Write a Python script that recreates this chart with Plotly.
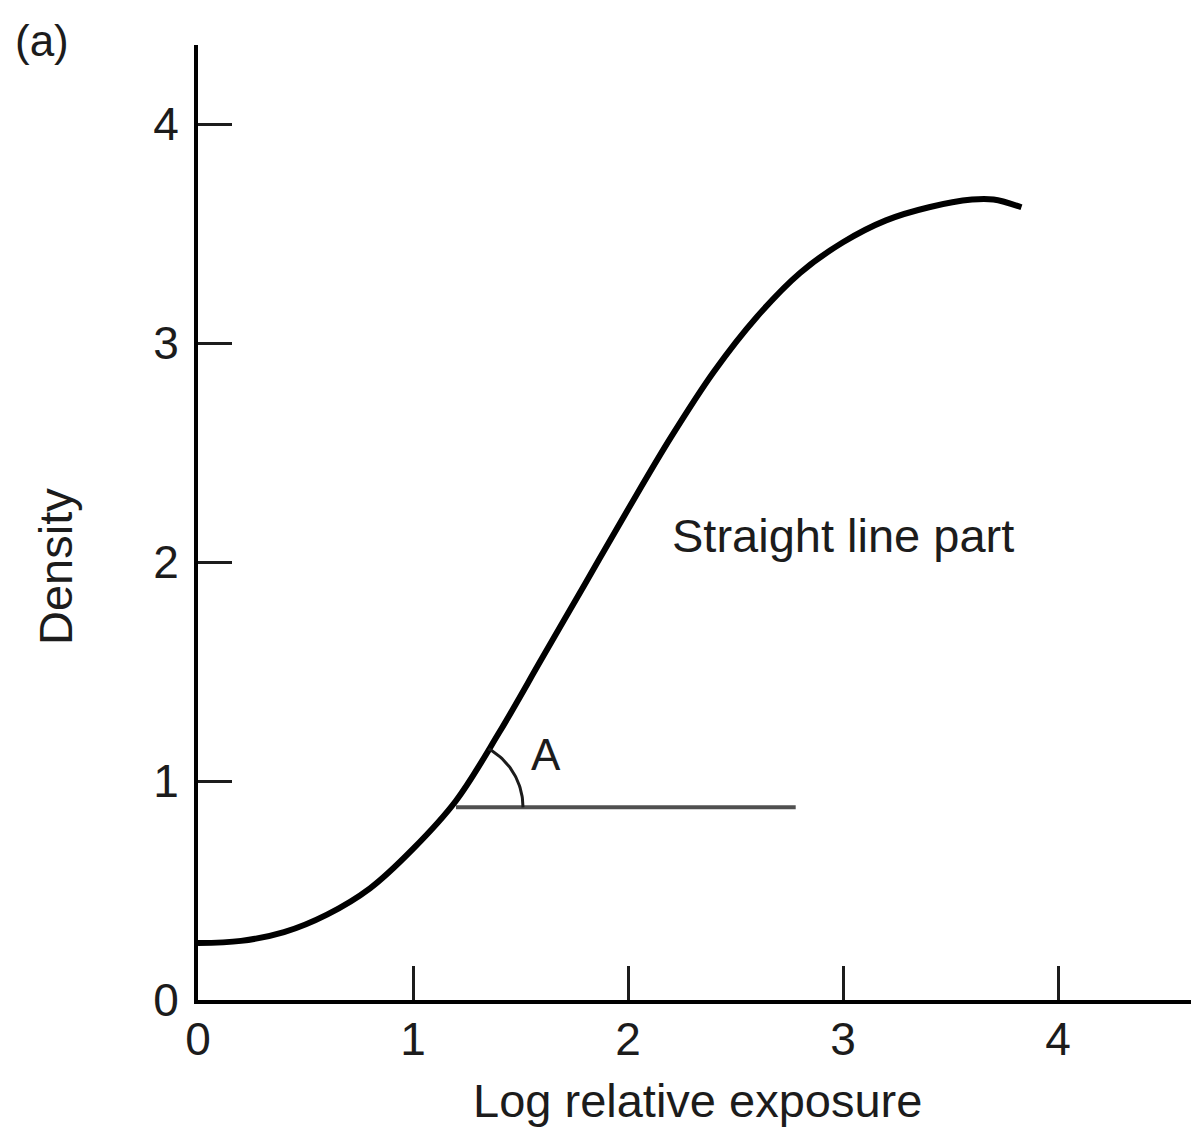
import numpy as np
import plotly.graph_objects as go

# Characteristic curve
log_exposure = [0.0, 0.2, 0.4, 0.6, 0.8, 1.0, 1.2, 1.4, 1.6, 1.8, 2.0, 2.2, 2.4, 2.6, 2.8, 3.0, 3.2, 3.4, 3.6, 3.7, 3.83]
density = [0.26, 0.27, 0.31, 0.39, 0.51, 0.69, 0.91, 1.22, 1.56, 1.90, 2.24, 2.57, 2.87, 3.12, 3.32, 3.46, 3.56, 3.62, 3.655, 3.655, 3.62]

# Reference horizontal line for angle A
ref_x = [1.2, 2.78]
ref_y = [0.88, 0.88]

x_ticks = [0, 1, 2, 3, 4]
y_ticks = [0, 1, 2, 3, 4]

FONT = "Liberation Sans, Arial, Helvetica"
TXT = "#1c1c1c"

W, H = 1191, 1134
L, R, T, B = 198, 0, 45, 134
xmax = (W - L - R) / 215.0
ymax = (H - T - B) / 219.0

fig = go.Figure()

fig.add_trace(go.Scatter(x=log_exposure, y=density, mode="lines",
                         line=dict(color="black", width=6, shape="spline", smoothing=1.0),
                         hoverinfo="skip", showlegend=False))

fig.add_trace(go.Scatter(x=ref_x, y=ref_y, mode="lines",
                         line=dict(color="#505050", width=4),
                         hoverinfo="skip", showlegend=False))

# Arc marking angle A (centre at start of reference line, ~67 px radius)
px_x = 215.0
px_y = 219.0
r_px = 67
t = np.linspace(0, np.deg2rad(61), 40)
arc_x = ref_x[0] + r_px * np.cos(t) / px_x
arc_y = ref_y[0] + r_px * np.sin(t) / px_y
fig.add_trace(go.Scatter(x=arc_x, y=arc_y, mode="lines",
                         line=dict(color="#1c1c1c", width=3),
                         hoverinfo="skip", showlegend=False))

fig.add_annotation(x=1.62, y=1.12, text="A", showarrow=False,
                   font=dict(family=FONT, size=44, color=TXT))
fig.add_annotation(x=3.0, y=2.12, text="Straight line part", showarrow=False,
                   font=dict(family=FONT, size=47, color=TXT))
fig.add_annotation(x=697, y=1100, xref="paper", yref="paper", text="Log relative exposure",
                   showarrow=False, font=dict(family=FONT, size=47, color=TXT))
fig.add_annotation(x=42, y=40, xref="paper", yref="paper", text="(a)",
                   showarrow=False, font=dict(family=FONT, size=44, color=TXT))
fig.add_annotation(x=55, y=567, xref="paper", yref="paper", text="Density", textangle=-90,
                   showarrow=False, font=dict(family=FONT, size=47, color=TXT))

# convert pixel-based paper annotations
for a in fig.layout.annotations:
    if a.xref == "paper":
        a.x = (a.x - L) / (W - L - R)
        a.y = 1 - (a.y - T) / (H - T - B)
        a.xanchor = "center"
        a.yanchor = "middle"

fig.update_xaxes(range=[0, xmax], tickvals=x_ticks, ticktext=[str(v) for v in x_ticks],
                 ticks="inside", ticklen=34, tickwidth=3, tickcolor="#1c1c1c",
                 showline=True, linecolor="black", linewidth=4,
                 showgrid=False, zeroline=False, ticklabelstandoff=-4,
                 tickfont=dict(family=FONT, size=46, color=TXT))
fig.update_yaxes(range=[0, ymax], tickvals=y_ticks, ticktext=[str(v) for v in y_ticks],
                 ticks="inside", ticklen=34, tickwidth=3, tickcolor="#1c1c1c",
                 showline=True, linecolor="black", linewidth=4,
                 showgrid=False, zeroline=False, ticklabelstandoff=6,
                 tickfont=dict(family=FONT, size=46, color=TXT))

fig.update_layout(width=W, height=H, margin=dict(l=L, r=R, t=T, b=B),
                  plot_bgcolor="white", paper_bgcolor="white", showlegend=False)

fig.write_html("out.html", config={"displayModeBar": False},
               post_script="document.body.style.margin='0';document.body.style.overflow='hidden';")
